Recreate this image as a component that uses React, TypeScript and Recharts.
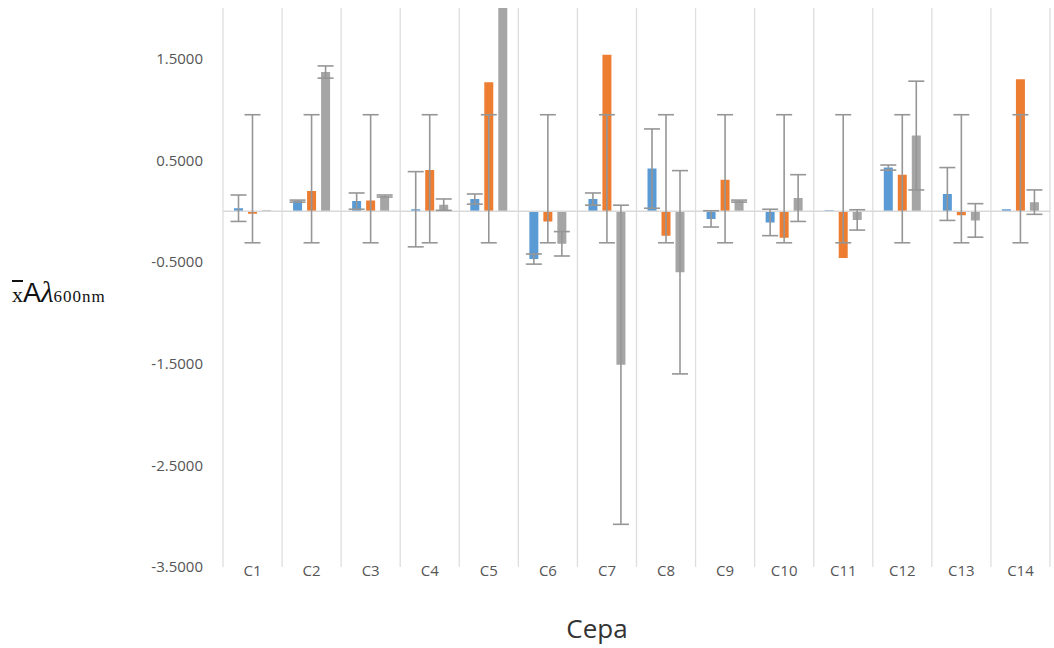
import React from 'react';
import { BarChart, Bar, XAxis, YAxis, CartesianGrid, ReferenceLine, ErrorBar } from 'recharts';

// categories and values
const categories = ['C1', 'C2', 'C3', 'C4', 'C5', 'C6', 'C7', 'C8', 'C9', 'C10', 'C11', 'C12', 'C13', 'C14'];

const serieA = [0.03, 0.1, 0.1, 0.02, 0.12, -0.47, 0.12, 0.42, -0.075, -0.11, 0.01, 0.43, 0.17, 0.02];
const serieAErr = [0.13, 0.01, 0.08, 0.37, 0.05, 0.05, 0.06, 0.39, 0.08, 0.13, 0, 0.025, 0.26, 0];

const serieB = [-0.025, 0.2, 0.105, 0.405, 1.27, -0.1, 1.54, -0.24, 0.31, -0.26, -0.46, 0.36, -0.04, 1.3];
// the orange error bars all span the same range in the original
const serieBLow = [-0.31, -0.31, -0.31, -0.31, -0.31, -0.31, -0.31, -0.31, -0.31, -0.31, -0.31, -0.31, -0.31, -0.31];
const serieBHigh = [0.95, 0.95, 0.95, 0.95, 0.95, 0.95, 0.95, 0.95, 0.95, 0.95, 0.95, 0.95, 0.95, 0.95];

const serieC = [0.01, 1.37, 0.15, 0.065, 2.2, -0.32, -1.51, -0.6, 0.1, 0.13, -0.085, 0.745, -0.09, 0.09];
const serieCErr = [0, 0.06, 0.01, 0.056, 0, 0.12, 1.57, 1.0, 0.01, 0.23, 0.1, 0.535, 0.165, 0.12];

const yTicks = [-3.5, -2.5, -1.5, -0.5, 0.5, 1.5];

const data = categories.map((name, i) => ({
  name,
  a: serieA[i],
  aErr: serieAErr[i],
  b: serieB[i],
  bErr: [serieB[i] - serieBLow[i], serieBHigh[i] - serieB[i]],
  c: serieC[i],
  cErr: serieCErr[i],
}));

const FONT = '"Open Sans", sans-serif';
const ERR_COLOR = '#969696';

const CategoryTick = (props: any) => {
  const { x, y, payload } = props;
  return (
    <text x={x} y={y} dy={1} textAnchor="middle" fill="#555" fontSize={15} fontFamily={FONT}>
      {payload.value}
    </text>
  );
};

const App: React.FC = () => {
  const gridX = ({ offset }: any) =>
    Array.from({ length: categories.length + 1 }, (_, i) => offset.left + (i * offset.width) / categories.length);

  return (
    <div style={{ position: 'fixed', left: 0, top: 0, width: 1054, height: 648, background: '#fff' }}>
      <BarChart
        width={1054}
        height={648}
        data={data}
        margin={{ top: 8, right: 4, bottom: 51, left: 0 }}
        barSize={9}
        barGap={5}
      >
        <CartesianGrid horizontal={false} stroke="#dedede" strokeWidth={1.3} verticalCoordinatesGenerator={gridX} />
        <XAxis dataKey="name" axisLine={false} tickLine={false} tick={<CategoryTick />} height={30} interval={0} />
        <YAxis
          domain={[-3.5, 2]}
          ticks={yTicks}
          allowDataOverflow
          axisLine={false}
          tickLine={false}
          tickMargin={14}
          width={223}
          tickFormatter={(v: number) => v.toFixed(4)}
          tick={{ fill: '#555', fontSize: 15, fontFamily: FONT }}
        />
        <ReferenceLine y={0} stroke="#d9d9d9" strokeWidth={1.5} />
        <Bar dataKey="a" fill="#5b9bd5" isAnimationActive={false}>
          <ErrorBar dataKey="aErr" width={8} stroke={ERR_COLOR} strokeWidth={1.6} />
        </Bar>
        <Bar dataKey="b" fill="#ed7d31" isAnimationActive={false}>
          <ErrorBar dataKey="bErr" width={8} stroke={ERR_COLOR} strokeWidth={1.6} />
        </Bar>
        <Bar dataKey="c" fill="#a5a5a5" isAnimationActive={false}>
          <ErrorBar dataKey="cErr" width={8} stroke={ERR_COLOR} strokeWidth={1.6} />
        </Bar>
      </BarChart>

      {/* y axis title */}
      <div
        style={{
          position: 'absolute',
          left: 12,
          top: 278,
          whiteSpace: 'nowrap',
          color: '#111',
          lineHeight: 1,
        }}
      >
        <span style={{ fontFamily: '"Liberation Serif", serif', fontSize: 22, textDecoration: 'overline' }}>x</span>
        <span style={{ fontFamily: '"Liberation Sans", sans-serif', fontSize: 27 }}>A</span>
        <span style={{ fontFamily: '"Liberation Serif", serif', fontSize: 29, fontStyle: 'italic' }}>λ</span>
        <span style={{ fontFamily: '"Liberation Serif", serif', fontSize: 17, letterSpacing: 1 }}>600nm</span>
      </div>

      {/* x axis title */}
      <div
        style={{
          position: 'absolute',
          left: 597,
          top: 615,
          transform: 'translateX(-50%)',
          fontFamily: FONT,
          fontSize: 26,
          color: '#333',
          lineHeight: 1,
        }}
      >
        Cepa
      </div>
    </div>
  );
};

export default App;
